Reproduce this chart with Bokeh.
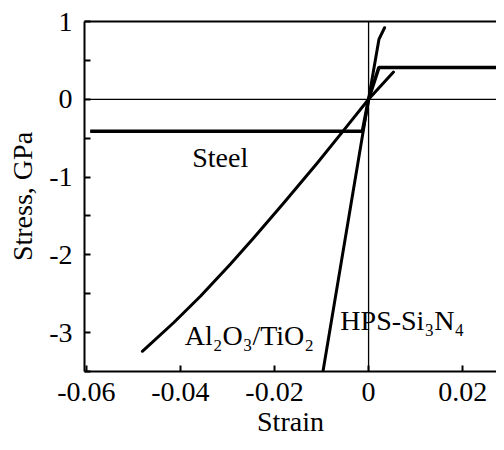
from bokeh.plotting import figure
from bokeh.models import Span, FixedTicker, LinearAxis, Range1d
from bokeh.core.properties import value
from bokeh.embed import file_html
from bokeh.resources import INLINE

# ---- data ----
steel_strain = [-0.0592, -0.0013, 0.0, 0.0022, 0.0300]
steel_stress = [-0.41, -0.41, 0.0, 0.41, 0.41]

alti_strain = [-0.0481, -0.0414, -0.0357, -0.0294, -0.0244, -0.0180, -0.0109, -0.0053, 0.0, 0.0053]
alti_stress = [-3.24, -2.87, -2.53, -2.12, -1.78, -1.33, -0.82, -0.40, 0.0, 0.35]

si_strain = [-0.0097, 0.0, 0.0008, 0.0022, 0.0034]
si_stress = [-3.50, 0.0, 0.28, 0.77, 0.92]

x_ticks = [-0.06, -0.04, -0.02, 0.0, 0.02]
x_tick_labels = ["-0.06", "-0.04", "-0.02", "0", "0.02"]
y_ticks = [-3, -2, -1, 0, 1]
y_tick_labels = ["-3", "-2", "-1", "0", "1"]
y_minor_ticks = [-3.5, -2.5, -1.5, -0.5, 0.5]

labels = ["Steel", "Al\u2082O\u2083/TiO\u2082", "HPS-Si\u2083N\u2084"]

FONT = "Liberation Serif"
FS = "28px"

p = figure(width=496, height=442, output_backend="svg", toolbar_location=None,
           x_range=Range1d(-0.0604, 0.0272), y_range=Range1d(-3.5, 1.0),
           min_border_left=84, min_border_right=0, min_border_top=21, min_border_bottom=71)
p.grid.visible = False
p.outline_line_color = None
p.background_fill_color = "white"
p.border_fill_color = "white"

# zero lines
p.add_layout(Span(location=0, dimension="width", line_color="black", line_width=1.3))
p.add_layout(Span(location=0, dimension="height", line_color="black", line_width=1.3))

# curves
p.line(steel_strain, steel_stress, line_color="black", line_width=3.5)
p.line(alti_strain, alti_stress, line_color="black", line_width=3, line_join="round", line_cap="round")
p.line(si_strain, si_stress, line_color="black", line_width=3, line_join="round", line_cap="round")

# labels
p.text(x=[-0.0375], y=[-0.75], text=[labels[0]], text_font=value(FONT), text_font_size=FS,
       text_color="black", text_align="left", text_baseline="alphabetic")
p.text(x=[-0.0391], y=[-3.04], text=[labels[1]], text_font=value(FONT), text_font_size=FS,
       text_color="black", text_align="left", text_baseline="alphabetic")
p.text(x=[-0.0060], y=[-2.84], text=[labels[2]], text_font=value(FONT), text_font_size=FS,
       text_color="black", text_align="left", text_baseline="alphabetic")

# axes
xa = p.xaxis[0]
xa.ticker = FixedTicker(ticks=x_ticks)
xa.major_label_overrides = {t: l for t, l in zip(x_ticks, x_tick_labels)}
xa.axis_label = "Strain"

ya = p.yaxis[0]
ya.ticker = FixedTicker(ticks=y_ticks, minor_ticks=y_minor_ticks)
ya.major_label_overrides = {t: l for t, l in zip(y_ticks, y_tick_labels)}
ya.axis_label = "Stress, GPa"

for ax in (xa, ya):
    ax.axis_line_width = 2
    ax.axis_line_color = "black"
    ax.major_tick_in = 6
    ax.major_tick_out = 0
    ax.minor_tick_in = 6
    ax.minor_tick_out = 0
    ax.major_tick_line_width = 2
    ax.minor_tick_line_width = 2
    ax.major_tick_line_color = "black"
    ax.minor_tick_line_color = "black"
    ax.major_label_text_font = FONT
    ax.major_label_text_font_size = FS
    ax.major_label_text_color = "black"
    ax.axis_label_text_font = FONT
    ax.axis_label_text_font_size = FS
    ax.axis_label_text_font_style = "normal"
    ax.axis_label_text_color = "black"

xa.major_label_standoff = 11
xa.axis_label_standoff = 2
ya.major_label_standoff = 12
ya.axis_label_standoff = 8

top = LinearAxis(ticker=FixedTicker(ticks=[]), major_tick_in=0, major_tick_out=0,
                 minor_tick_in=0, minor_tick_out=0, major_label_text_font_size="0px",
                 axis_line_width=2, axis_line_color="black")
p.add_layout(top, "above")

open("out.html", "w").write(file_html(p, INLINE))
